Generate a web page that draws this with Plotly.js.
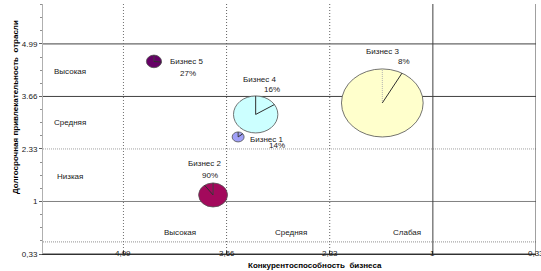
<!DOCTYPE html>
<html><head><meta charset="utf-8">
<script src="https://cdn.plot.ly/plotly-3.0.1.min.js"></script>
<style>html,body{margin:0;padding:0;background:#fff}#chart{width:541px;height:271px}</style>
</head><body><div id="chart"></div>
<script>
// ---- data (positions are on the chart's evenly spaced index scales) ----
const businesses      = ["Бизнес 1", "Бизнес 2", "Бизнес 3", "Бизнес 4", "Бизнес 5"];
const competitiveness = [1.112, 0.869, 2.510, 1.282, 0.296];
const attractiveness  = [2.229, 1.124, 2.876, 2.657, 3.667];
const bubbleSize      = [0.095, 0.229, 0.648, 0.352, 0.12];
const sharePct        = [14, 90, 8, 16, 27];
const xTickLabels = ["4,99", "3,66", "2,33", "1", "0,33"];
const yTickLabels = ["0,33", "1", "2.33", "3.66", "4.99"];
const rowLabels   = ["Высокая", "Средняя", "Низкая"];
const rowPos      = [3.47, 2.50, 1.47];
const colLabels   = ["Высокая", "Средняя", "Слабая"];
const colPos      = [0.55, 1.62, 2.75];

// ---- styles ----
const fills = ["#a0a0f8", "#a3095c", "#ffffcc", "#ccffff", "#660066"];
const startLine = [{c:"#404040",d:"solid"},{c:"#404040",d:"solid"},{c:"#b0b0b0",d:"1px,1px"},{c:"#303030",d:"solid"},{c:"#404040",d:"solid"}];
const nameShift = [[28.5,-3],[-9,31],[0,51],[4,34.5],[32.5,-0.5]];
const pctShift  = [[38.5,-9],[-3.5,19],[21.5,41],[16.5,24.5],[34.5,-12.5]];
const xRange = [-0.78, 4.0], yRange = [0, 4.76];
const W = 541, H = 271, M = {l:43, r:5, t:4, b:17, pad:0};
const pxX = (W - M.l - M.r) / (xRange[1] - xRange[0]);
const pxY = (H - M.t - M.b) / (yRange[1] - yRange[0]);
const stretch = 1.2;

const shapes = [];
// horizontal grid lines
const hStyles = [{c:"#404040",d:"solid",w:1.2},{c:"#808080",d:"solid",w:1},{c:"#a0a0a0",d:"1px,1px",w:1},{c:"#404040",d:"solid",w:1},{c:"#404040",d:"solid",w:1}];
yTickLabels.forEach((t, i) => {
  shapes.push({type:"line", layer:"below", xref:"paper", yref:"y", x0:0, x1:1, y0:i, y1:i,
    line:{color:hStyles[i].c, width:hStyles[i].w, dash:hStyles[i].d}});
});
shapes.push({type:"line", layer:"below", xref:"paper", yref:"y", x0:0, x1:1, y0:0.23, y1:0.23,
  line:{color:"#909090", width:1, dash:"1px,1px"}});
// vertical grid lines
const vStyles = [{c:"#707070",d:"1px,2px"},{c:"#606060",d:"1px,2px"},{c:"#606060",d:"1px,2px"},{c:"#404040",d:"solid"},{c:"#404040",d:"solid"}];
xTickLabels.forEach((t, i) => {
  shapes.push({type:"line", layer:"below", xref:"x", yref:"paper", x0:i, x1:i, y0:0, y1:1,
    line:{color:vStyles[i].c, width:1, dash:vStyles[i].d}});
});
// bubbles (pie bubbles)
businesses.forEach((b, i) => {
  const cx = competitiveness[i], cy = attractiveness[i];
  const ry = bubbleSize[i], rx = ry * pxY / pxX * stretch;
  shapes.push({type:"circle", xref:"x", yref:"y", x0:cx-rx, x1:cx+rx, y0:cy-ry, y1:cy+ry,
    fillcolor:fills[i], line:{color:"#505050", width:0.8}});
});
businesses.forEach((b, i) => {
  const cx = competitiveness[i], cy = attractiveness[i];
  const ry = bubbleSize[i], rx = ry * pxY / pxX * stretch;
  const th = sharePct[i] / 100 * 2 * Math.PI;
  shapes.push({type:"line", xref:"x", yref:"y", x0:cx, y0:cy, x1:cx, y1:cy+ry,
    line:{color:startLine[i].c, width:1, dash:startLine[i].d}});
  shapes.push({type:"line", xref:"x", yref:"y", x0:cx, y0:cy, x1:cx+rx*Math.sin(th), y1:cy+ry*Math.cos(th),
    line:{color:"#303030", width:1}});
});

const font = {family:"Liberation Sans, Arial, sans-serif", size:8, color:"#202020"};
const annotations = [];
businesses.forEach((b, i) => {
  annotations.push({x:competitiveness[i], y:attractiveness[i], xref:"x", yref:"y", text:b, showarrow:false,
    xanchor:"center", yanchor:"middle", xshift:nameShift[i][0], yshift:nameShift[i][1], font});
  annotations.push({x:competitiveness[i], y:attractiveness[i], xref:"x", yref:"y", text:sharePct[i]+"%", showarrow:false,
    xanchor:"center", yanchor:"middle", xshift:pctShift[i][0], yshift:pctShift[i][1], font});
});
rowLabels.forEach((t, i) => annotations.push({x:-0.52, y:rowPos[i], xref:"x", yref:"y", text:t, showarrow:false,
  xanchor:"center", yanchor:"middle", font}));
colLabels.forEach((t, i) => annotations.push({x:colPos[i], y:0.4, xref:"x", yref:"y", text:t, showarrow:false,
  xanchor:"center", yanchor:"middle", font}));
xTickLabels.forEach((t, i) => annotations.push({x:i, y:0, xref:"x", yref:"paper", text:t, showarrow:false,
  xanchor:"center", yanchor:"middle", yshift:1, font}));
annotations.push({xref:"paper", yref:"paper", x:(315-M.l)/(W-M.l-M.r), y:-11/(H-M.t-M.b), yanchor:"middle", xanchor:"center",
  text:"<b>Конкурентоспособность  бизнеса</b>", showarrow:false, font:{...font, size:8, color:"#000"}});
annotations.push({xref:"paper", yref:"paper", x:(15-M.l)/(W-M.l-M.r), y:(H-M.b-107)/(H-M.t-M.b), xanchor:"center", yanchor:"middle",
  textangle:-90, text:"<b>Долгосрочная привлекательность  отрасли</b>", showarrow:false, font:{...font, size:8, color:"#000"}});

const trace = {type:"scatter", mode:"markers", x:competitiveness, y:attractiveness, text:businesses,
  marker:{size:1, color:"rgba(0,0,0,0)"}, hoverinfo:"text", showlegend:false};

const layout = {
  width:W, height:H, margin:M, paper_bgcolor:"#fff", plot_bgcolor:"#fff", showlegend:false,
  xaxis:{range:xRange, showgrid:false, zeroline:false, showticklabels:false, showline:true, linecolor:"#303030", linewidth:1.2,
    ticks:"inside", ticklen:3, tickcolor:"#303030", tickvals:[0,1,2,3,4]},
  yaxis:{range:yRange, showgrid:false, zeroline:false, showline:true, linecolor:"#b0b0b0", linewidth:1,
    tickvals:[0,1,2,3,4], ticktext:yTickLabels, ticks:"outside", ticklen:3, tickcolor:"#606060",
    tickfont:font, minor:{ticks:"outside", ticklen:2, dtick:0.25, tickcolor:"#909090"}},
  shapes, annotations
};
Plotly.newPlot("chart", [trace], layout, {staticPlot:true, displayModeBar:false});
</script></body></html>
